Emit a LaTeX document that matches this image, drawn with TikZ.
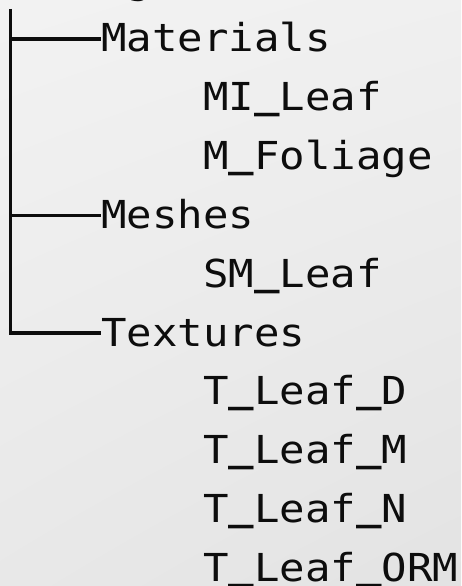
\documentclass[tikz,border=0pt]{standalone}
\usepackage{fontspec}
\newfontfamily\treefont[FakeStretch=1.1]{DejaVu Sans Mono}
\usetikzlibrary{shadings}
% heavier underscore sitting just under the baseline
\newcommand\us{\raisebox{14.9pt}{\scalebox{1}[2.35]{\_}}}

\begin{document}
\begin{tikzpicture}[x=1pt,y=1pt,
  entry/.style={anchor=base west,inner sep=0pt,text height=28pt,text depth=2pt,
    font=\treefont\fontsize{38.5}{46}\selectfont,text=black!95},
  branch/.style={line width=3.2pt,black!95}]
  \useasboundingbox (0,0) rectangle (461,-586);
  \shade[upper left=black!5,upper right=black!6,lower left=black!9,lower right=black!11]
    (0,0) rectangle (461,-586);
  % folder names, one per row
  \node[entry] (root) at (-1,6.8) {Foliage};
  \foreach \n/\txt/\col/\row in {mat/Materials/4/1,mil/MI\us Leaf/8/2,mfo/M\us Foliage/8/3,
      mesh/Meshes/4/4,sml/SM\us Leaf/8/5,tex/Textures/4/6,tld/T\us Leaf\us D/8/7,
      tlm/T\us Leaf\us M/8/8,tln/T\us Leaf\us N/8/9,tlo/T\us Leaf\us ORM/8/10}
    \node[entry] (\n) at (\col*25.5-1,-52-\row*58.8+58.8) {\txt};
  % tree lines
  \coordinate (top) at (10.5,-9);
  \draw[branch] (top) |- (tex.west);
  \foreach \n in {mat,mesh}
    \draw[branch] (top |- \n.west) -- (\n.west);
\end{tikzpicture}
\end{document}
